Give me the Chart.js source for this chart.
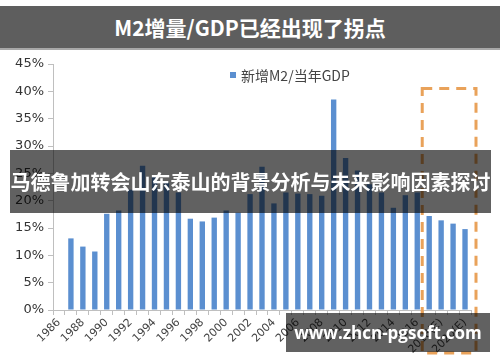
<!DOCTYPE html>
<html>
<head>
<meta charset="utf-8">
<script src="https://cdn.jsdelivr.net/npm/chart.js@4"></script>
<style>
  html, body { margin: 0; padding: 0; background: #fff; }
  #wrap { position: relative; width: 500px; height: 362px; overflow: hidden; font-family: "Noto Sans CJK SC", "Noto Sans", sans-serif; }
  #chart { position: absolute; left: 0; top: 0; }
  .title { position: absolute; left: 0; top: 6px; width: 500px; height: 42px; background: #5e5e5e; border-bottom: 2px solid #a8a8a8;
    color: #fff; font-weight: bold; font-size: 21px; line-height: 42px; text-align: center; }
  .legend { position: absolute; left: 230px; top: 66px; font-size: 14px; color: #444; line-height: 18px; }
  .legend i { display: inline-block; width: 6px; height: 6px; background: #5b8fd0; margin-right: 5px; vertical-align: 3px; }
  .banner { position: absolute; left: 10px; top: 150px; width: 481px; height: 63px; background: rgba(0,0,0,0.62);
    color: #fff; font-weight: bold; font-size: 20px; line-height: 63px; text-align: center; white-space: nowrap; }
  .mark { position: absolute; left: 286px; top: 313px; width: 204px; height: 39px; background: rgba(0,0,0,0.62);
    color: #fff; font-weight: bold; font-size: 17px; line-height: 39px; text-align: center; white-space: nowrap;
    font-family: "Open Sans", "Noto Sans", sans-serif; }
</style>
</head>
<body>
<div id="wrap">
  <canvas id="chart" width="500" height="362"></canvas>
  <div class="title">M2增量/GDP已经出现了拐点</div>
  <div class="legend"><i></i>新增M2/当年GDP</div>
  <div class="banner">马德鲁加转会山东泰山的背景分析与未来影响因素探讨</div>
  <div class="mark">www.zhcn-pgsoft.com</div>
</div>
<script>
const YEARS = [
  "1986", "1987", "1988", "1989", "1990", "1991", "1992", "1993", "1994", "1995",
  "1996", "1997", "1998", "1999", "2000", "2001", "2002", "2003", "2004", "2005",
  "2006", "2007", "2008", "2009", "2010", "2011", "2012", "2013", "2014", "2015",
  "2016", "2017(E)", "2018(E)", "2019(E)", "2020(E)",
];
// new M2 / GDP of the year, in %
const M2_TO_GDP = [
  null, 13.1, 11.6, 10.7, 17.6, 18.2, 22.0, 26.4, 24.5, 23.3,
  21.5, 16.7, 16.2, 16.9, 18.2, 17.8, 21.2, 26.2, 19.5, 21.5,
  21.3, 21.2, 20.9, 38.5, 27.8, 25.5, 23.0, 21.5, 18.7, 21.0,
  21.5, 17.2, 16.4, 15.8, 14.8,
];
const Y_TICKS = [0, 5, 10, 15, 20, 25, 30, 35, 40, 45];
const FORECAST_FROM = "2017(E)";

const COLORS = {
  bar: "#5b8fd0",
  axis: "#bfbfbf",
  text: "#333",
  box: "#e9a25a",
};

// dashed box round the estimated years
const forecastBox = {
  id: "forecastBox",
  afterDraw(chart) {
    const x = chart.scales.x, y = chart.scales.y;
    const i0 = YEARS.indexOf(FORECAST_FROM);
    const half = (x.getPixelForValue(1) - x.getPixelForValue(0)) / 2;
    const left = x.getPixelForValue(i0) - half - 1;
    const right = x.getPixelForValue(YEARS.length - 1) + half + 5;
    const top = y.getPixelForValue(40.5);
    const bottom = y.bottom + 43;
    const ctx = chart.ctx;
    ctx.save();
    ctx.strokeStyle = COLORS.box;
    ctx.lineWidth = 3;
    ctx.setLineDash([10, 7]);
    ctx.strokeRect(left, top, right - left, bottom - top);
    ctx.restore();
  },
};

new Chart(document.getElementById("chart"), {
  type: "bar",
  data: {
    labels: YEARS,
    datasets: [{ label: "新增M2/当年GDP", data: M2_TO_GDP, backgroundColor: COLORS.bar, barPercentage: 0.45, categoryPercentage: 1 }],
  },
  options: {
    responsive: false,
    animation: false,
    layout: { padding: { top: 64, right: 29, left: 0, bottom: 0 } },
    plugins: { legend: { display: false }, tooltip: { enabled: false } },
    scales: {
      x: {
        afterFit: (s) => { s.height = 52; },
        border: { color: COLORS.axis },
        grid: { drawOnChartArea: false, color: COLORS.axis, tickLength: 5 },
        ticks: {
          autoSkip: false, maxRotation: 45, minRotation: 45, padding: 1,
          color: "#444", font: { family: "DejaVu Sans", size: 11 },
          callback: (v, i) => (i % 2 === 0 ? YEARS[i] : ""),
        },
      },
      y: {
        min: 0, max: 45,
        afterFit: (s) => { s.width = 53; },
        afterBuildTicks: (s) => { s.ticks = Y_TICKS.map((v) => ({ value: v })); },
        border: { color: COLORS.axis },
        grid: { drawOnChartArea: false, color: COLORS.axis, tickLength: 5 },
        ticks: { color: COLORS.text, padding: 4, font: { family: "DejaVu Sans", size: 13 }, callback: (v) => v + "%" },
      },
    },
  },
  plugins: [forecastBox],
});
</script>
</body>
</html>
